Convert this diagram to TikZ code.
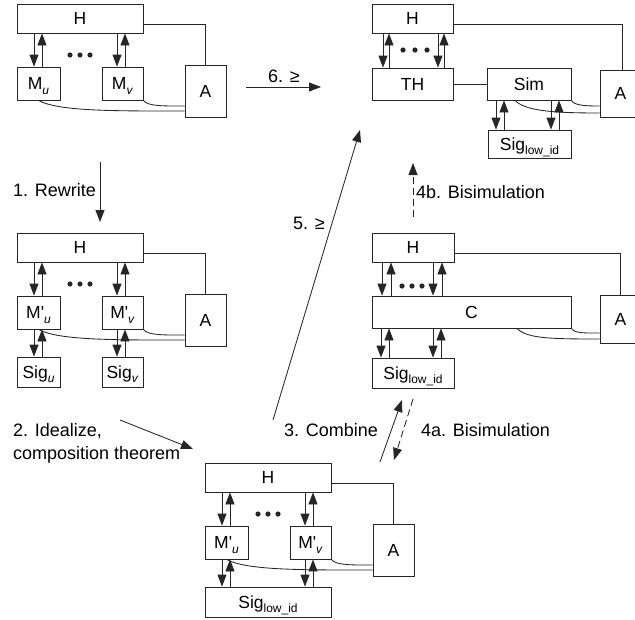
\documentclass[tikz,border=0pt]{standalone}
\usepackage{fontspec}
\newfontfamily\af{Liberation Sans}
\usetikzlibrary{arrows.meta}
\newcommand{\sbs}[1]{\raisebox{-4.5pt}{\fontsize{12}{12}\selectfont #1}}
\tikzset{
 ln/.style={line width=0.85pt, draw=black!85},
 arr/.style={ln, -{Triangle[length=12pt,width=9pt]}},
 darr/.style={arr, dash pattern=on 7pt off 4pt},
 box/.style={draw=black!85, line width=0.85pt, inner sep=0pt, text height=12.4pt, text depth=0pt, font=\af\fontsize{17.5}{20}\selectfont, fill=white},
 lbl/.style={inner sep=0pt, text height=12.8pt, text depth=0pt, font=\af\fontsize{18}{20}\selectfont},
 dot/.style={fill=black!85},
}
\newcommand{\stdpanel}[3]{%
 \node[box, minimum width=126pt, minimum height=29pt] (#1H) at (80,18.5) {H};
 \node[box, minimum width=43pt, minimum height=33pt] (#1u) at (38.5,83.5) {#2};
 \node[box, minimum width=41pt, minimum height=33pt] (#1v) at (122.5,83.5) {#3};
 \node[box, minimum width=41pt, minimum height=52pt] (#1A) at (205.5,91) {A};
 \draw[ln] ([yshift=-5.5pt]#1H.east) -| (#1A.north);
 \draw[arr] (#1H.south -| 34,0) -- (#1u.north -| 34,0);
 \draw[arr] (#1u.north -| 42,0) -- (#1H.south -| 42,0);
 \draw[arr] (#1H.south -| 117,0) -- (#1v.north -| 117,0);
 \draw[arr] (#1v.north -| 125,0) -- (#1H.south -| 125,0);
 \foreach \dx in {70,80,90} \fill[dot] (\dx,55) circle[radius=2.6pt];
 \draw[ln] (#1u.south) .. controls +(20,11) and +(-70,0) .. ([yshift=-20pt]#1A.west);
 \draw[ln] (#1v.south east) .. controls +(4,6) and +(-20,0) .. ([yshift=-15pt]#1A.west);
}
\begin{document}
\begin{tikzpicture}[x=1pt,y=-1pt]
\useasboundingbox (0,0) rectangle (635,619);

% top-left
\begin{scope}
 \stdpanel{tl}{M\sbs{\textit{u}}}{M\sbs{\textit{v}}}
\end{scope}

% middle-left
\begin{scope}[shift={(0,229)}]
 \stdpanel{ml}{M'\sbs{\textit{u}}}{M'\sbs{\textit{v}}}
 \node[box, minimum width=43pt, minimum height=30pt] (mlSu) at (38.5,143) {Sig\sbs{\textit{u}}};
 \node[box, minimum width=41pt, minimum height=30pt] (mlSv) at (122.5,143) {Sig\sbs{\textit{v}}};
 \draw[arr] (mlu.south -| 34,0) -- (mlSu.north -| 34,0);
 \draw[arr] (mlSu.north -| 42,0) -- (mlu.south -| 42,0);
 \draw[arr] (mlv.south -| 117,0) -- (mlSv.north -| 117,0);
 \draw[arr] (mlSv.north -| 125,0) -- (mlv.south -| 125,0);
\end{scope}

% bottom
\begin{scope}[shift={(188,459)}]
 \stdpanel{bt}{M'\sbs{\textit{u}}}{M'\sbs{\textit{v}}}
 \node[box, minimum width=126pt, minimum height=30pt] (btS) at (80,143) {Sig\sbs{low\_id}};
 \draw[arr] (btu.south -| 34,0) -- (btS.north -| 34,0);
 \draw[arr] (btS.north -| 42,0) -- (btu.south -| 42,0);
 \draw[arr] (btv.south -| 117,0) -- (btS.north -| 117,0);
 \draw[arr] (btS.north -| 125,0) -- (btv.south -| 125,0);
\end{scope}

% top-right
\node[box, minimum width=81pt, minimum height=29pt] (trH) at (412.5,18.5) {H};
\node[box, minimum width=81pt, minimum height=32pt] (trTH) at (412.5,84) {TH};
\node[box, minimum width=84pt, minimum height=32pt] (trSim) at (529,84) {Sim};
\node[box, minimum width=41pt, minimum height=47pt] (trA) at (620.5,93.5) {A};
\node[box, minimum width=83pt, minimum height=28pt] (trSig) at (529.5,144) {Sig\sbs{low\_id}};
\draw[ln] ([yshift=-5.5pt]trH.east) -| ([xshift=1.5pt]trA.north);
\draw[ln] (trTH) -- (trSim);
\draw[arr] (trH.south -| 383,0) -- (trTH.north -| 383,0);
\draw[arr] (trTH.north -| 389,0) -- (trH.south -| 389,0);
\draw[arr] (trH.south -| 438,0) -- (trTH.north -| 438,0);
\draw[arr] (trTH.north -| 444,0) -- (trH.south -| 444,0);
\foreach \dx in {403,415,427} \fill[dot] (\dx,50) circle[radius=2.6pt];
\draw[arr] (trSim.south -| 496,0) -- (trSig.north -| 496,0);
\draw[arr] (trSig.north -| 504,0) -- (trSim.south -| 504,0);
\draw[arr] (trSim.south -| 551,0) -- (trSig.north -| 551,0);
\draw[arr] (trSig.north -| 559,0) -- (trSim.south -| 559,0);
\draw[ln] (trSim.south east) .. controls +(3,5) and +(-15,0) .. ([yshift=-12.5pt]trA.west);
\draw[ln] (trSim.south -| 515,0) .. controls +(10,10) and +(-50,0) .. ([yshift=-19.5pt]trA.west);

% middle-right
\node[box, minimum width=82pt, minimum height=29pt] (mrH) at (413,247.5) {H};
\node[box, minimum width=199pt, minimum height=32pt] (mrC) at (471.5,312) {C};
\node[box, minimum width=41pt, minimum height=48pt] (mrA) at (620.5,319) {A};
\node[box, minimum width=82pt, minimum height=30pt] (mrSig) at (413,373) {Sig\sbs{low\_id}};
\draw[ln] ([yshift=-5.5pt]mrH.east) -| (mrA.north);
\draw[arr] (mrH.south -| 382,0) -- (mrC.north -| 382,0);
\draw[arr] (mrC.north -| 391,0) -- (mrH.south -| 391,0);
\draw[arr] (mrH.south -| 433,0) -- (mrC.north -| 433,0);
\draw[arr] (mrC.north -| 442,0) -- (mrH.south -| 442,0);
\foreach \dx in {402,412,422} \fill[dot] (\dx,286) circle[radius=2.6pt];
\draw[arr] (mrC.south -| 381,0) -- (mrSig.north -| 381,0);
\draw[arr] (mrSig.north -| 389,0) -- (mrC.south -| 389,0);
\draw[arr] (mrC.south -| 433,0) -- (mrSig.north -| 433,0);
\draw[arr] (mrSig.north -| 441,0) -- (mrC.south -| 441,0);
\draw[ln] (mrC.south east) .. controls +(3,5) and +(-15,0) .. ([yshift=-14pt]mrA.west);
\draw[ln] (mrC.south -| 517,0) .. controls +(10,10) and +(-50,0) .. ([yshift=-20pt]mrA.west);

% transitions
\coordinate (r1s) at (100,162); \coordinate (r1e) at (100,222);
\draw[arr] (r1s) -- (r1e);
\node[lbl, anchor=west] (r1l) at (13,190) {1. Rewrite};

\coordinate (r6s) at (246,87); \coordinate (r6e) at (321,87);
\draw[arr] (r6s) -- (r6e);
\node[lbl] (r6l) at (284,76) {6. ≥};

\coordinate (r5s) at (273,420); \coordinate (r5e) at (360,130);
\draw[arr] (r5s) -- (r5e);
\node[lbl] (r5l) at (309,223) {5. ≥};

\coordinate (r4bs) at (413,217); \coordinate (r4be) at (413,163);
\draw[darr] (r4bs) -- (r4be);
\node[lbl, anchor=west] (r4bl) at (416,192) {4b. Bisimulation};

\coordinate (r2s) at (120,420); \coordinate (r2e) at (193,449);
\draw[arr] (r2s) -- (r2e);
\node[lbl, anchor=west] (r2l) at (13,430) {2. Idealize,};
\node[lbl, anchor=west] (r2m) at (13,453) {composition theorem};

\coordinate (r3s) at (380,462); \coordinate (r3e) at (402,400);
\draw[arr] (r3s) -- (r3e);
\node[lbl, anchor=east] (r3l) at (378,430) {3. Combine};

\coordinate (r4as) at (413,399); \coordinate (r4ae) at (394,460);
\draw[darr] (r4as) -- (r4ae);
\node[lbl, anchor=west] (r4al) at (421,430) {4a. Bisimulation};
\end{tikzpicture}
\end{document}
